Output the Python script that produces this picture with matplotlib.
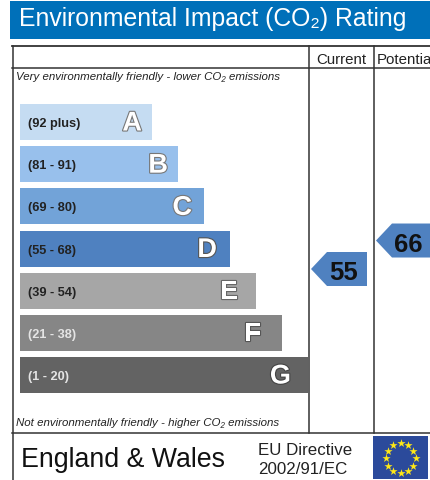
import numpy as np
import matplotlib
matplotlib.use('Agg')
from matplotlib import pyplot as plt
from matplotlib import patheffects as pe
from matplotlib.patches import Polygon, Rectangle

plt.rcParams['font.family'] = ['Liberation Sans', 'DejaVu Sans']

#The Chart's Values
band_ranges = ['(92 plus)', '(81 - 91)', '(69 - 80)', '(55 - 68)', '(39 - 54)', '(21 - 38)', '(1 - 20)']
band_letters = ['A', 'B', 'C', 'D', 'E', 'F', 'G']
band_lengths = [132, 158, 184, 210, 236, 262, 288]
band_colours = ['#c5dcf2', '#98c0ec', '#72a3d8', '#4f81c0', '#a6a6a6', '#868686', '#636363']
range_colours = ['#222222', '#222222', '#222222', '#222222', '#222222', '#e4e4e4', '#e4e4e4']
letter_edges = ['#777777', '#777777', '#777777', '#555555', '#666666', '#555555', '#444444']
current_score = 55
potential_score = 66

W, H = 430, 481
fig = plt.figure(figsize=(W / 100, H / 100), dpi=100)
ax = fig.add_axes([0, 0, 1, 1])
ax.set_xlim(0, W)
ax.set_ylim(H, 0)
ax.axis('off')

#Title Banner
ax.add_patch(Rectangle((10, 2), 420, 38, fc='#0070b9', ec='none'))
ax.text(19, 19, 'Environmental Impact (CO\u2082) Rating', color='white', fontsize=17.85, va='center')

#Table Lines
line_col = '#333333'
ax.plot([12, 430], [47, 47], color=line_col, lw=1.3)
ax.plot([12, 430], [69, 69], color=line_col, lw=1.1)
ax.plot([12, 430], [433.5, 433.5], color=line_col, lw=1.1)
ax.plot([12.5, 12.5], [47, 481], color=line_col, lw=1.1)
ax.plot([308.5, 308.5], [47, 433.5], color=line_col, lw=1.1)
ax.plot([373.5, 373.5], [47, 433.5], color=line_col, lw=1.1)

ax.text(316, 59.5, 'Current', fontsize=10.8, color='#222222', va='center')
ax.text(377, 59.5, 'Potential', fontsize=10.8, color='#222222', va='center')

ax.text(16, 77, 'Very environmentally friendly - lower CO\u2082 emissions', fontsize=8.28,
        style='italic', color='#222222', va='center')
ax.text(16, 423.5, 'Not environmentally friendly - higher CO\u2082 emissions', fontsize=8.28,
        style='italic', color='#222222', va='center')

#Bands
tops = 105 + np.arange(len(band_letters)) * 42.17
letter_gaps = [10, 10, 12, 13, 18, 21, 17]
ax.barh(tops + 18, band_lengths, height=36, left=20, color=band_colours, edgecolor='none')
for i in range(len(band_letters)):
    ax.text(28, tops[i] + 19, band_ranges[i], fontsize=9.2, fontweight='bold',
            color=range_colours[i], va='center')
    t = ax.text(20 + band_lengths[i] - letter_gaps[i], tops[i] + 19.5, band_letters[i], fontsize=19.5, fontweight='bold',
                color='white', va='center', ha='right')
    t.set_path_effects([pe.withStroke(linewidth=1.6, foreground=letter_edges[i])])

#Score Pointers, Height Comes From The Score
def pointer(score, left, right):
    y = 270 + (55 - score) * 2.59
    ax.add_patch(Polygon([(left, y), (left + 16, y - 17), (right, y - 17), (right, y + 17), (left + 16, y + 17)],
                         closed=True, fc='#4f81c0', ec='none'))
    ax.text(left + 32.5, y + 3, str(score), fontsize=18.5, fontweight='bold', color='#111111', va='center', ha='center')

pointer(current_score, 311, 367)
pointer(potential_score, 376, 440)

#Footer
ax.text(21, 460.5, 'England & Wales', fontsize=19.3, color='#111111', va='center')
ax.text(258, 450.5, 'EU Directive', fontsize=12.2, color='#222222', va='center')
ax.text(258, 470, '2002/91/EC', fontsize=12.2, color='#222222', va='center')

#EU Flag
ax.add_patch(Rectangle((373, 437), 55, 43, fc='#2b4a9b', ec='none'))
angles = np.arange(12) * np.pi / 6
ax.scatter(400.5 + 15 * np.sin(angles), 459 - 15 * np.cos(angles), marker='*', s=38, color='#ffe815', linewidths=0)

fig.savefig('out.png', dpi=100)
